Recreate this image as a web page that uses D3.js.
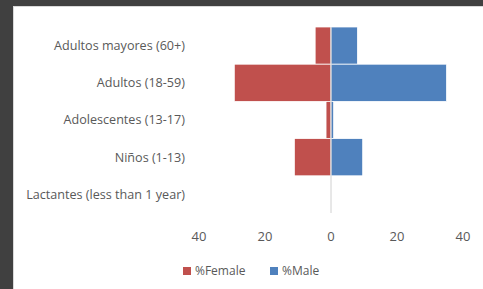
<!DOCTYPE html>
<html>
  <head>
    <meta charset="UTF-8" />
    <style>
      body { margin: 0; background: #404040; }
      svg { display: block; }
      text { font-family: 'Open Sans', sans-serif; fill: #595959; }
    </style>
  </head>
  <body>
    <svg></svg>

    <script src="https://d3js.org/d3.v7.min.js"></script>

    <script>
      let width = 483,
        height = 289

      // data
      let categories = [
        'Adultos mayores (60+)',
        'Adultos (18-59)',
        'Adolescentes (13-17)',
        'Niños (1-13)',
        'Lactantes (less than 1 year)',
      ]
      let female = [4.8, 29.3, 1.5, 11.1, 0]
      let male = [8.0, 35.0, 0.8, 9.6, 0]
      let ticks = [-40, -20, 0, 20, 40]
      let seriesNames = ['%Female', '%Male']
      let colors = ['#C0504D', '#4F81BD']

      let svg = d3.select('svg').attr('width', width).attr('height', height)

      // chart area (white) with thin border
      svg
        .append('rect')
        .attr('x', 13.5)
        .attr('y', 6.5)
        .attr('width', width)
        .attr('height', height)
        .attr('fill', 'white')
        .attr('stroke', '#d9d9d9')

      let x = d3.scaleLinear().domain([-40, 40]).range([199, 463])
      let y = d3.scaleBand().domain(categories).range([27, 213]).padding(0)

      let rows = categories.map((c, i) => ({ cat: c, f: female[i], m: male[i] }))

      // female bars to the left
      svg
        .append('g')
        .selectAll('rect')
        .data(rows)
        .enter()
        .append('rect')
        .attr('x', (d) => x(-d.f))
        .attr('y', (d) => y(d.cat))
        .attr('width', (d) => x(0) - x(-d.f))
        .attr('height', y.bandwidth())
        .attr('fill', colors[0])
        .attr('stroke', 'white')
        .attr('stroke-width', 0.75)

      // male bars to the right
      svg
        .append('g')
        .selectAll('rect')
        .data(rows)
        .enter()
        .append('rect')
        .attr('x', x(0))
        .attr('y', (d) => y(d.cat))
        .attr('width', (d) => x(d.m) - x(0))
        .attr('height', y.bandwidth())
        .attr('fill', colors[1])
        .attr('stroke', 'white')
        .attr('stroke-width', 0.75)

      // zero line
      svg
        .append('line')
        .attr('x1', x(0))
        .attr('x2', x(0))
        .attr('y1', 27)
        .attr('y2', 213)
        .attr('stroke', '#d0d0d0')
        .attr('stroke-width', 1)

      // category labels
      svg
        .append('g')
        .selectAll('text')
        .data(categories)
        .enter()
        .append('text')
        .attr('x', 185)
        .attr('y', (d) => y(d) + y.bandwidth() / 2)
        .attr('dy', '0.35em')
        .attr('text-anchor', 'end')
        .style('font-size', '12.6px')
        .text((d) => d)

      // x tick labels (absolute values)
      svg
        .append('g')
        .selectAll('text')
        .data(ticks)
        .enter()
        .append('text')
        .attr('x', (d) => x(d))
        .attr('y', 241)
        .attr('text-anchor', 'middle')
        .style('font-size', '13px')
        .text((d) => Math.abs(d))

      // legend
      let legend = svg.append('g')
      let lx = [183, 270]
      seriesNames.forEach((s, i) => {
        legend
          .append('rect')
          .attr('x', lx[i])
          .attr('y', 267)
          .attr('width', 8)
          .attr('height', 8)
          .attr('fill', colors[i])
        legend
          .append('text')
          .attr('x', lx[i] + 12)
          .attr('y', 275)
          .style('font-size', '12px')
          .text(s)
      })
    </script>
  </body>
</html>
